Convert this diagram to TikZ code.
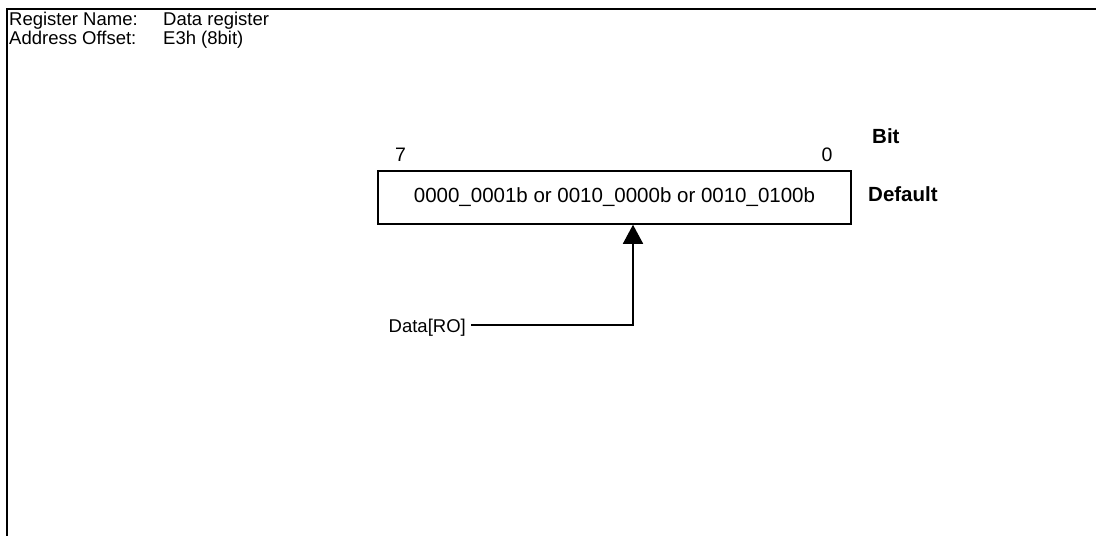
\documentclass[tikz,border=0pt]{standalone}
\usepackage{fontspec}
\setmainfont{Liberation Sans}
\usetikzlibrary{arrows.meta,positioning}

\begin{document}
\begin{tikzpicture}[
    x=1pt, y=-1pt,
    hdr/.style={inner sep=0pt, font=\fontsize{18.5}{22}\selectfont},
    bitnum/.style={inner sep=0pt, font=\fontsize{19.5}{23}\selectfont},
    side/.style={inner sep=0pt, font=\fontsize{20.5}{24}\selectfont\bfseries},
    regbox/.style={draw=black, line width=1.5pt, minimum width=473pt, minimum height=53pt, inner sep=0pt, font=\fontsize{20.5}{24}\selectfont},
    ptr/.style={-{Triangle[length=19pt,width=20pt]}, line width=1.5pt}
]
\useasboundingbox (0,0) rectangle (1096,536);
\draw[line width=2pt] (1096,9) -- (7,9) -- (7,536);

% register header
\node[hdr, anchor=base west] (NameKey) at (9,25) {Register Name:};
\node[hdr, anchor=base west] (NameVal) at (163,25) {Data register};
\node[hdr, anchor=base west] (OffKey) at (9,44) {Address Offset:};
\node[hdr, anchor=base west] (OffVal) at (163,44) {E3h (8bit)};

% register field
\node[regbox] (RegBox) at (614.5,197.5) {0000\_0001b or 0010\_0000b or 0010\_0100b};
\node[bitnum, anchor=base] (MsbNum) at (400.5,161) {7};
\node[bitnum, anchor=base] (LsbNum) at (827,161) {0};
\node[side, anchor=base west] (BitLbl) at (872,143) {Bit};
\node[side, anchor=base west] (DefLbl) at (868,201) {Default};

% field name
\node[hdr, anchor=base east] (DataLbl) at (466,332) {Data[RO]};
\coordinate (Tap) at ([xshift=5pt,yshift=7pt]DataLbl.base east);
\draw[ptr] (Tap) -| ([xshift=18.5pt]RegBox.south);
\end{tikzpicture}
\end{document}
